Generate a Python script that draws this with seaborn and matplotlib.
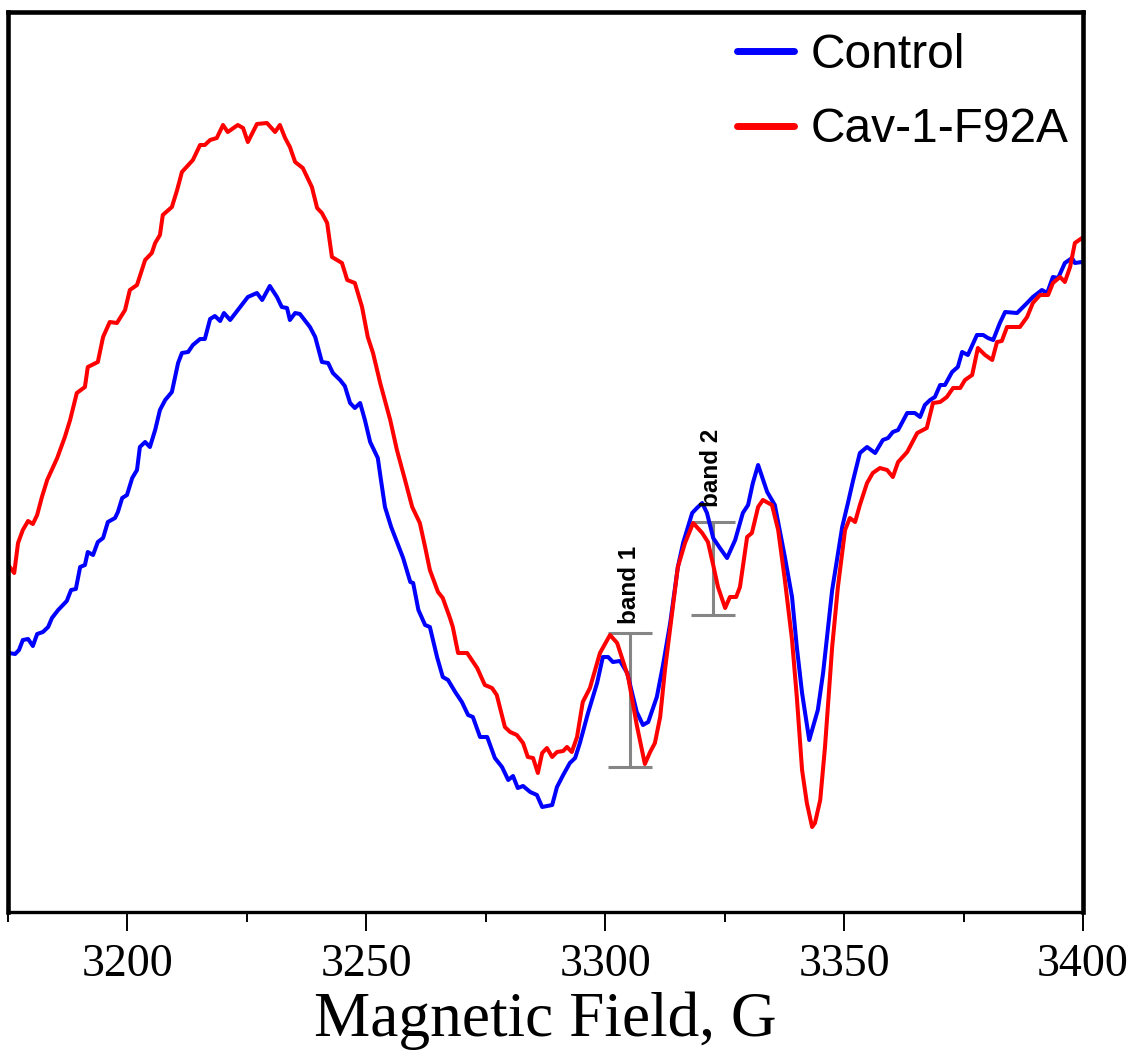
import numpy as np
import pandas as pd
import matplotlib
matplotlib.use("Agg")
import matplotlib.pyplot as plt
from matplotlib.ticker import MultipleLocator
import seaborn as sns

# ---------------- data ----------------
field_f92a = [3175.2, 3176.3, 3177.1, 3178.1, 3179.2, 3180.2, 3181.1, 3182.1, 3183.2, 3185.3,
              3186.9, 3188.0, 3189.4, 3191.1, 3191.7, 3193.8, 3194.9, 3196.3, 3197.8, 3199.5,
              3200.5, 3202.0, 3203.7, 3205.1, 3205.8, 3206.8, 3207.4, 3209.3, 3210.4, 3211.4,
              3213.7, 3215.2, 3216.2, 3217.3, 3218.7, 3220.0, 3221.0, 3223.1, 3224.2, 3225.2,
              3227.1, 3229.2, 3230.9, 3231.9, 3233.0, 3234.0, 3235.1, 3236.7, 3238.6, 3239.7,
              3240.7, 3241.8, 3242.8, 3244.9, 3246.0, 3247.6, 3249.1, 3250.3, 3251.4, 3252.9,
              3255.0, 3256.4, 3258.1, 3259.6, 3261.2, 3262.3, 3263.3, 3265.0, 3266.0, 3267.5,
              3268.1, 3269.2, 3271.1, 3273.2, 3274.8, 3276.3, 3277.3, 3279.0, 3280.1, 3281.5,
              3282.8, 3283.8, 3284.9, 3285.9, 3286.8, 3287.8, 3288.9, 3289.9, 3291.2, 3292.0,
              3293.0, 3294.1, 3295.3, 3296.8, 3298.9, 3301.0, 3302.5, 3304.8, 3306.6, 3308.3,
              3309.4, 3310.4, 3311.5, 3312.5, 3314.0, 3315.2, 3316.7, 3318.4, 3320.3, 3321.5,
              3322.6, 3323.6, 3325.1, 3326.1, 3327.4, 3328.2, 3329.7, 3330.7, 3332.0, 3333.0,
              3334.9, 3336.2, 3337.6, 3339.1, 3340.1, 3341.2, 3342.2, 3343.3, 3343.9, 3345.0,
              3346.0, 3347.5, 3348.7, 3350.2, 3351.2, 3352.3, 3353.3, 3354.8, 3356.0, 3357.5,
              3359.0, 3360.2, 3361.3, 3363.2, 3365.3, 3367.3, 3368.6, 3370.1, 3371.5, 3372.8,
              3374.3, 3375.3, 3376.8, 3378.0, 3379.5, 3381.0, 3382.0, 3383.0, 3384.1, 3386.8,
              3388.3, 3389.5, 3391.0, 3392.7, 3393.7, 3395.2, 3396.2, 3397.3, 3398.3, 3399.8]
signal_f92a = [346, 339, 369, 382, 391, 388, 397, 415, 432, 454,
               475, 492, 519, 525, 545, 550, 575, 590, 589, 602,
               622, 627, 652, 659, 669, 677, 697, 705, 722, 740,
               752, 767, 767, 772, 774, 787, 780, 787, 784, 770,
               788, 789, 780, 787, 774, 765, 750, 744, 725, 704,
               699, 689, 655, 649, 632, 629, 605, 575, 559, 529,
               492, 462, 432, 405, 389, 365, 342, 320, 314, 294,
               285, 259, 259, 244, 227, 224, 217, 185, 180, 177,
               169, 155, 154, 139, 159, 164, 155, 160, 161, 165,
               160, 175, 210, 224, 259, 277, 269, 235, 187, 148,
               160, 169, 195, 242, 299, 345, 369, 389, 379, 370,
               347, 325, 304, 315, 315, 325, 375, 379, 405, 412,
               407, 382, 332, 272, 215, 142, 109, 85, 89, 112,
               165, 265, 325, 382, 394, 390, 407, 429, 439, 444,
               442, 435, 450, 460, 479, 484, 509, 510, 515, 524,
               524, 532, 537, 564, 557, 552, 570, 571, 585, 585,
               595, 609, 617, 617, 629, 635, 630, 645, 669, 674]

field_control = [3175.2, 3176.5, 3177.3, 3178.1, 3179.2, 3180.2, 3181.1, 3182.3, 3183.4, 3184.2,
                 3185.5, 3187.3, 3188.2, 3189.2, 3190.1, 3191.1, 3191.7, 3192.8, 3193.8, 3194.9,
                 3195.9, 3197.4, 3198.0, 3198.9, 3199.9, 3201.0, 3202.0, 3202.6, 3203.7, 3204.7,
                 3205.8, 3206.8, 3207.9, 3209.3, 3210.6, 3211.4, 3212.7, 3213.7, 3215.2, 3216.2,
                 3217.3, 3218.3, 3219.4, 3220.2, 3221.5, 3223.6, 3225.2, 3227.1, 3228.2, 3229.8,
                 3231.3, 3232.3, 3233.4, 3234.0, 3235.1, 3236.1, 3238.2, 3239.3, 3240.7, 3242.0,
                 3243.0, 3244.5, 3245.5, 3246.6, 3247.6, 3248.7, 3249.7, 3250.8, 3252.4, 3253.0,
                 3253.9, 3255.2, 3257.7, 3259.2, 3259.8, 3260.9, 3262.3, 3263.3, 3264.8, 3266.0,
                 3267.1, 3268.6, 3270.0, 3271.3, 3272.3, 3273.8, 3275.3, 3276.9, 3278.4, 3279.7,
                 3280.7, 3281.7, 3282.8, 3284.3, 3285.7, 3286.8, 3288.9, 3289.9, 3291.2, 3292.6,
                 3293.7, 3294.7, 3296.4, 3298.3, 3299.5, 3300.6, 3301.6, 3303.1, 3304.6, 3306.6,
                 3307.9, 3309.0, 3310.8, 3312.1, 3313.6, 3315.2, 3316.3, 3318.2, 3319.2, 3320.3,
                 3321.3, 3322.6, 3324.0, 3325.5, 3327.2, 3328.8, 3329.9, 3330.9, 3332.0, 3333.9,
                 3335.5, 3337.6, 3339.1, 3340.1, 3341.2, 3342.7, 3344.5, 3345.6, 3347.5, 3349.6,
                 3350.8, 3351.9, 3353.3, 3354.8, 3356.5, 3358.1, 3359.2, 3360.2, 3361.3, 3363.2,
                 3364.8, 3365.9, 3366.9, 3368.0, 3369.0, 3370.1, 3371.1, 3372.6, 3373.8, 3374.7,
                 3375.9, 3377.8, 3379.1, 3380.1, 3381.2, 3382.6, 3383.7, 3386.2, 3388.3, 3389.5,
                 3391.4, 3392.5, 3393.7, 3394.8, 3396.2, 3397.7, 3398.3, 3399.8]
signal_control = [259, 258, 262, 272, 273, 266, 278, 280, 285, 294,
                  302, 311, 322, 323, 345, 347, 360, 357, 370, 374,
                  390, 394, 400, 414, 417, 434, 442, 465, 470, 465,
                  482, 502, 512, 520, 549, 559, 560, 567, 573, 573,
                  593, 596, 591, 599, 592, 605, 615, 619, 612, 626,
                  615, 605, 604, 592, 599, 598, 585, 575, 550, 549,
                  539, 532, 526, 509, 504, 509, 492, 470, 454, 434,
                  405, 385, 354, 330, 329, 302, 287, 285, 255, 235,
                  232, 220, 210, 197, 195, 175, 175, 154, 145, 132,
                  136, 124, 126, 120, 117, 105, 107, 125, 137, 149,
                  154, 169, 199, 229, 255, 255, 250, 251, 239, 200,
                  187, 190, 215, 247, 289, 345, 369, 399, 404, 409,
                  399, 374, 364, 354, 372, 399, 407, 429, 447, 420,
                  407, 355, 315, 265, 219, 172, 202, 239, 322, 385,
                  409, 432, 459, 465, 459, 472, 474, 480, 482, 499,
                  499, 495, 507, 512, 515, 527, 527, 540, 545, 560,
                  557, 577, 577, 574, 572, 589, 600, 599, 609, 615,
                  622, 619, 635, 634, 649, 654, 649, 650]

series_names = ["Control", "Cav-1-F92A"]
series_colors = ["#0000FF", "#FF0000"]

# band markers: (label, field, top, bottom)
band_labels = ["band 1", "band 2"]
band_field = [3305.2, 3322.6]
band_top = [279, 390]
band_bottom = [145, 297]
band_halfwidth = [4.6, 4.6]
band_label_field = [3305.0, 3322.3]
band_label_signal = [327, 444]

# ---------------- build table ----------------
df = pd.concat([
    pd.DataFrame({"field": field_control, "signal": signal_control, "sample": series_names[0]}),
    pd.DataFrame({"field": field_f92a, "signal": signal_f92a, "sample": series_names[1]}),
], ignore_index=True)

sns.set_theme(style="white")
plt.rcParams["font.family"] = ["Liberation Sans", "DejaVu Sans"]
plt.rcParams["text.color"] = "black"
plt.rcParams["axes.labelcolor"] = "black"
plt.rcParams["xtick.color"] = "black"

fig = plt.figure(figsize=(11.4, 10.57), dpi=100)
ax = fig.add_axes([8 / 1140, 1 - 912 / 1057, 1075 / 1140, 900 / 1057])

sns.lineplot(data=df, x="field", y="signal", hue="sample", hue_order=series_names,
             palette=series_colors, estimator=None, sort=False, linewidth=2.9, ax=ax)

# band markers
for lab, bx, top, bot, hw, lx, ly in zip(band_labels, band_field, band_top, band_bottom,
                                          band_halfwidth, band_label_field, band_label_signal):
    ax.vlines(bx, bot, top, color="#858585", linewidth=2.2, zorder=1)
    ax.hlines([top, bot], bx - hw, bx + hw, color="#858585", linewidth=2.2, zorder=1)
    ax.text(lx, ly, lab, rotation=90, ha="center", va="center", fontsize=17.5,
            fontweight="bold", color="black", family=["Liberation Sans", "DejaVu Sans"])

ax.set_xlim(3175, 3400)
ax.set_ylim(0, 900)
ax.set_yticks([])
ax.set_ylabel("")
ax.xaxis.set_major_locator(MultipleLocator(50))
ax.xaxis.set_minor_locator(MultipleLocator(25))
ax.tick_params(axis="x", which="major", direction="out", length=14, width=1.4,
               bottom=True, pad=9, labelsize=33, colors="black")
ax.tick_params(axis="x", which="minor", direction="out", length=7, width=1.4, bottom=True)
for lbl in ax.get_xticklabels():
    lbl.set_family(["Liberation Serif", "DejaVu Serif"])
ax.set_xlabel("Magnetic Field, G", fontsize=45.5, color="black",
              family=["Liberation Serif", "DejaVu Serif"], labelpad=4)

for side in ["left", "right", "top"]:
    ax.spines[side].set_linewidth(3.3)
    ax.spines[side].set_color("black")
ax.spines["bottom"].set_linewidth(2.4)
ax.spines["bottom"].set_color("black")

leg = ax.legend(loc="upper left", bbox_to_anchor=(0.678, 0.977), frameon=False,
                fontsize=34.5, handlelength=1.2, handletextpad=0.33, labelspacing=0.62,
                borderpad=0, borderaxespad=0)
for h in leg.get_lines():
    h.set_linewidth(5)
for t in leg.get_texts():
    t.set_color("black")

fig.savefig("out.png", dpi=100)
